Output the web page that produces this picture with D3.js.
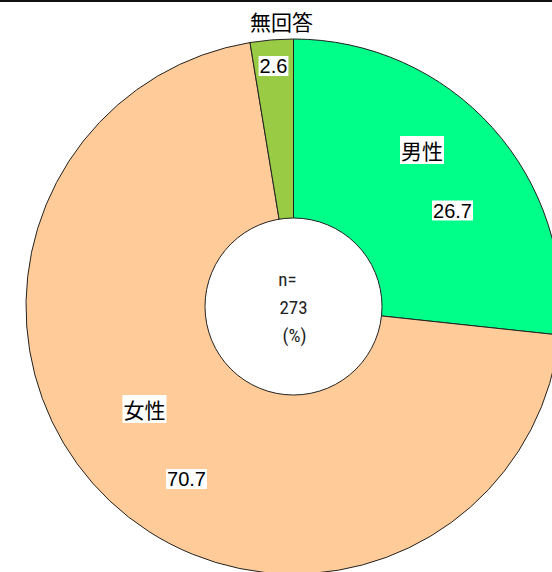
<!DOCTYPE html>
<html>
<head>
<meta charset="utf-8">
<script src="https://cdn.jsdelivr.net/npm/d3@7"></script>
<style>
	html, body { margin: 0; padding: 0; background: #fff; }
	svg { display: block; }
	.num { font-family: "Liberation Sans", Arial, sans-serif; }
	.narrow { font-family: "Liberation Sans Narrow", "Roboto Condensed", "Liberation Sans", sans-serif; }
	.cjk { font-family: "Noto Sans CJK JP", sans-serif; }
</style>
</head>
<body>
<div id="chart"></div>
<script>
/* chart data */
const categories = ["男性", "女性", "無回答"];
const values = [26.7, 70.7, 2.6];
const colors = ["#00ff88", "#ffcc99", "#99cc44"];
const sampleSize = 273;

const width = 552, height = 572;
const cx = 293.5, cy = 306.5;
const outerR = 267.5, innerR = 88.5;

const svg = d3.select("#chart")
	.append("svg")
	.attr("width", width)
	.attr("height", height);

/* top border line */
svg.append("line")
	.attr("x1", 0).attr("x2", width)
	.attr("y1", 1).attr("y2", 1)
	.attr("stroke", "#111")
	.attr("stroke-width", 2);

const data = categories.map((c, i) => ({ name: c, value: values[i], color: colors[i] }));

const pie = d3.pie()
	.value(d => d.value)
	.sort(null);

const arcs = pie(data);

const arc = d3.arc()
	.innerRadius(0)
	.outerRadius(outerR);

const g = svg.append("g")
	.attr("transform", `translate(${cx},${cy})`);

g.selectAll("path.slice")
	.data(arcs)
	.join("path")
	.attr("class", "slice")
	.attr("d", arc)
	.attr("fill", d => d.data.color)
	.attr("stroke", "#222")
	.attr("stroke-width", 1);

/* the hole */
g.append("circle")
	.attr("r", innerR)
	.attr("fill", "#fff")
	.attr("stroke", "#222")
	.attr("stroke-width", 1);

// label with white box behind
function boxedText(parent, x, y, text, cls, size) {
	const grp = parent.append("g");
	const t = grp.append("text")
		.attr("class", cls)
		.attr("x", x).attr("y", y)
		.attr("text-anchor", "middle")
		.attr("dominant-baseline", "central")
		.attr("font-size", size)
		.attr("fill", "#000")
		.text(text);
	const bb = t.node().getBBox();
	grp.insert("rect", "text")
		.attr("x", bb.x - 1).attr("y", bb.y + 1)
		.attr("width", bb.width + 2).attr("height", bb.height - 2)
		.attr("fill", "#fff");
	return grp;
}

/* label spots, offsets from the centre */
const labelSpots = [
	{ name: [128.5, -156.5], value: [159, -96] },
	{ name: [-149, 102.5], value: [-107, 172.5] },
	{ name: [-12, -286], value: [-20, -240.5] }
];

arcs.forEach((a, i) => {
	const s = labelSpots[i];
	if (i === 2) {
		g.append("text")
			.attr("class", "cjk")
			.attr("x", s.name[0]).attr("y", s.name[1])
			.attr("text-anchor", "middle")
			.attr("dominant-baseline", "central")
			.attr("font-size", 21)
			.text(a.data.name);
	} else {
		boxedText(g, s.name[0], s.name[1], a.data.name, "cjk", 21);
	}
	boxedText(g, s.value[0], s.value[1], d3.format(".1f")(a.data.value), "num", 20);
});

/* centre text */
const centre = [["n=", -6, -27], [String(sampleSize), 0, 1], ["(%)", 1, 29]];
centre.forEach(([t, dx, dy]) => {
	g.append("text")
		.attr("class", "narrow")
		.attr("x", dx).attr("y", dy)
		.attr("text-anchor", "middle")
		.attr("dominant-baseline", "central")
		.attr("font-size", 19)
		.attr("fill", "#222")
		.text(t);
});
</script>
</body>
</html>
